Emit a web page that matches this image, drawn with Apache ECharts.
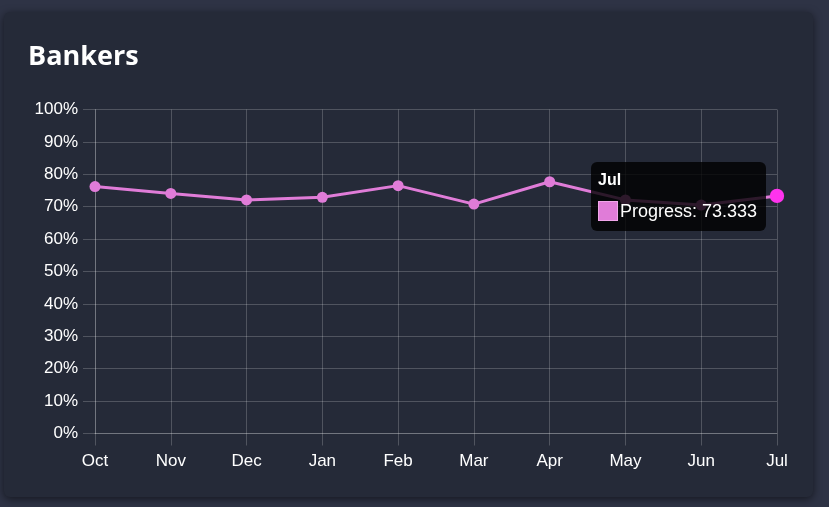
<!DOCTYPE html>
<html>
<head>
<meta charset="utf-8">
<script src="https://cdn.jsdelivr.net/npm/echarts@6/dist/echarts.min.js"></script>
<style>
  html, body { margin: 0; padding: 0; width: 829px; height: 507px; overflow: hidden; background: #2e3345; }
  #card { position: absolute; left: 4px; top: 12px; width: 809px; height: 485px; background: #252a38; border-radius: 6px; box-shadow: 0 2px 8px rgba(0,0,0,0.55); }
  #chart { position: absolute; left: 0; top: 0; width: 829px; height: 507px; }
</style>
</head>
<body>
<div id="card"></div>
<div id="chart"></div>
<script>
const titleText = 'Bankers';
const categories = ['Oct', 'Nov', 'Dec', 'Jan', 'Feb', 'Mar', 'Apr', 'May', 'Jun', 'Jul'];
const progress = [76.2, 74.1, 72.1, 72.9, 76.5, 70.8, 77.7, 72.1, 70.5, 73.333];
const seriesName = 'Progress';
const activeIndex = 9;

const chart = echarts.init(document.getElementById('chart'), null, { renderer: 'canvas' });
const labelFont = { color: '#ffffff', fontFamily: 'Liberation Sans, Arial, sans-serif', fontSize: 17 };
const gridColor = 'rgba(255,255,255,0.2)';
const lineColor = '#e07cd8';

chart.setOption({
  animation: false,
  title: {
    text: titleText, left: 23, top: 39,
    textStyle: { color: '#ffffff', fontFamily: 'Open Sans, sans-serif', fontWeight: 'bold', fontSize: 27 }
  },
  grid: { left: 95, right: 52, top: 109.5, bottom: 73.5, containLabel: false },
  tooltip: {
    trigger: 'item',
    transitionDuration: 0,
    backgroundColor: 'rgba(0,0,0,0.8)',
    borderWidth: 0,
    borderRadius: 6,
    padding: [9, 9, 8, 7],
    extraCssText: 'box-shadow:none;',
    position: function (point, params, dom, rect, size) {
      return [point[0] - size.contentSize[0] - 11, point[1] - 34];
    },
    formatter: function (p) {
      return '<div style="font-family:Liberation Sans,Arial,sans-serif;color:#fff;">' +
        '<div style="font-weight:bold;font-size:16px;line-height:18px;margin-bottom:10px;">' + p.name + '</div>' +
        '<div style="font-size:18px;line-height:24px;white-space:nowrap;">' +
        '<span style="display:inline-block;box-sizing:border-box;width:20px;height:20px;background:#e07cd8;border:1px solid #f0a6ea;vertical-align:-4px;margin-right:2px;"></span>' +
        p.seriesName + ': ' + p.value + '</div></div>';
    }
  },
  xAxis: {
    type: 'category',
    data: categories,
    boundaryGap: false,
    axisLine: { show: true, lineStyle: { color: gridColor } },
    axisTick: { show: true, length: 12, lineStyle: { color: gridColor } },
    splitLine: { show: true, lineStyle: { color: gridColor } },
    axisLabel: Object.assign({ margin: 19, interval: 0 }, labelFont)
  },
  yAxis: {
    type: 'value',
    min: 0, max: 100, interval: 10,
    axisLine: { show: true, lineStyle: { color: gridColor } },
    axisTick: { show: true, length: 12, lineStyle: { color: gridColor } },
    splitLine: { show: true, lineStyle: { color: gridColor } },
    axisLabel: Object.assign({ margin: 17, formatter: '{value}%' }, labelFont)
  },
  series: [{
    name: seriesName,
    type: 'line',
    data: progress,
    symbol: 'circle',
    symbolSize: 11,
    lineStyle: { color: lineColor, width: 3 },
    itemStyle: { color: lineColor },
    emphasis: { scale: 1.3, focus: 'none', itemStyle: { color: '#ff33ee' }, lineStyle: { width: 3, color: lineColor } },
    z: 2
  }]
});

chart.dispatchAction({ type: 'highlight', seriesIndex: 0, dataIndex: activeIndex });
chart.dispatchAction({ type: 'showTip', seriesIndex: 0, dataIndex: activeIndex });
</script>
</body>
</html>
